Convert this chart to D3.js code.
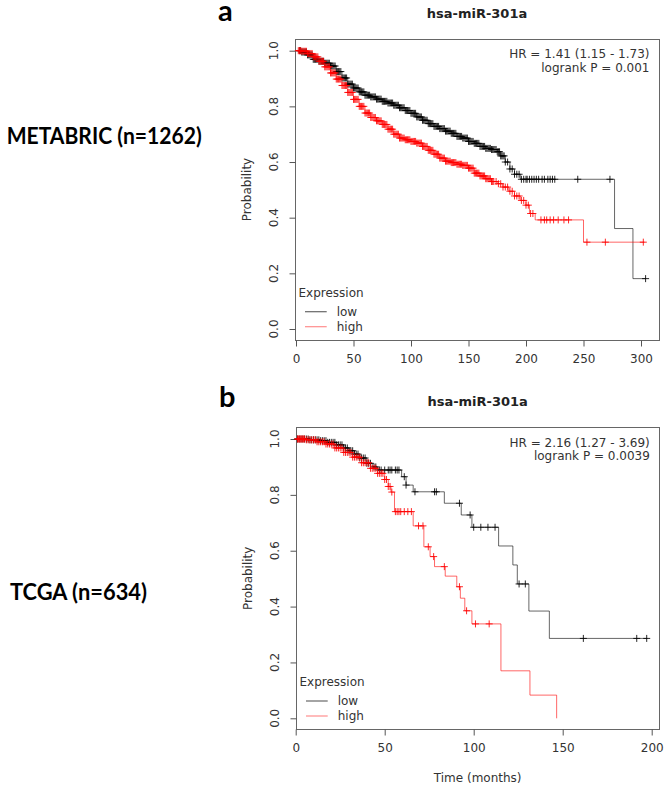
<!DOCTYPE html>
<html><head><meta charset="utf-8">
<script src="https://cdn.jsdelivr.net/npm/d3@7/dist/d3.min.js"></script>
<style>body{margin:0;background:#fff}svg{display:block}</style>
</head><body>
<svg id="c" width="666" height="787"></svg>
<script>
// ---------- data ----------
const geneTitle = "hsa-miR-301a";
const panelLetters = ["a", "b"];
const cohortLabels = ["METABRIC (n=1262)", "TCGA (n=634)"];
const hrLabels = ["HR = 1.41 (1.15 - 1.73)", "HR = 2.16 (1.27 - 3.69)"];
const pLabels = ["logrank P = 0.001", "logrank P = 0.0039"];
const seriesNames = ["low", "high"];
const xTicksA = [0, 50, 100, 150, 200, 250, 300];
const xTicksB = [0, 50, 100, 150, 200];
const yTicks = [0, 0.2, 0.4, 0.6, 0.8, 1.0];

// Panel a – low expression (step times / survival after step)
const aLowT = [0,5,10,15,20,25,30,35,40,45,50,55,60,65,70,75,80,85,90,95,100,105,110,115,120,125,130,135,140,145,150,155,160,165,170,175,178,182,186,190,195,277,293,304];
const aLowS = [1.0,0.995,0.985,0.969,0.962,0.955,0.945,0.925,0.902,0.880,0.866,0.852,0.840,0.834,0.826,0.818,0.812,0.804,0.795,0.785,0.775,0.762,0.750,0.738,0.728,0.720,0.711,0.703,0.692,0.686,0.674,0.667,0.656,0.649,0.645,0.637,0.622,0.600,0.575,0.556,0.538,0.361,0.181,0.181];
const aLowCens = [3,4,5,6,7,8,9,10,11,12,13,14,15,16,17,18,19,20,21,22,23,24,25,26,27,28,29,30,31,32,33,34,35,36,37,38,39,40,41,42,43,44,45,46,47,48,49,50,51,52,53,54,55,56,57,58,59,60,61,62,63,64,65,66,67,68,69,70,71,72,73,74,75,76,77,78,79,80,81,82,83,84,85,86,87,88,89,90,91,92,93,94,95,96,97,98,99,100,101,102,103,104,105,106,107,108,109,110,111,112,113,114,115,116,117,118,119,120,121,122,123,124,125,126,127,128,129,130,131,132,133,134,135,136,137,138,139,140,141,142,143,144,145,146,147,148,149,150,151,152,153,154,155,156,157,158,159,160,161,162,163,164,165,166,167,168,169,170,171,172,173,174,175,176,177,178,179,180,181,182,184,186,188,190,192,194,196,198,200,201,203,205,207,209,211,214,216,219,221,223,225,245,273,304];

// Panel a – high expression
const aHighT = [0,5,10,15,20,25,30,35,40,45,50,55,60,65,70,75,80,85,90,95,100,105,110,115,120,125,130,135,140,145,150,155,160,165,170,175,180,185,190,195,200,203,208,250,303];
const aHighS = [1.0,0.998,0.99,0.978,0.962,0.942,0.92,0.898,0.875,0.850,0.825,0.800,0.776,0.760,0.748,0.735,0.718,0.700,0.686,0.680,0.674,0.668,0.656,0.642,0.628,0.614,0.603,0.598,0.592,0.588,0.578,0.560,0.550,0.540,0.530,0.522,0.510,0.495,0.478,0.462,0.445,0.415,0.392,0.312,0.312];
const aHighCens = [2,3,4,5,6,7,8,9,10,11,12,13,14,15,16,17,18,19,20,21,22,23,24,25,26,27,28,29,30,31,32,33,34,35,36,37,38,39,40,41,42,43,44,45,46,47,48,49,50,51,52,53,54,55,56,57,58,59,60,61,62,63,64,65,66,67,68,69,70,71,72,73,74,75,76,77,78,79,80,81,82,83,84,85,86,87,88,89,90,91,92,93,94,95,96,97,98,99,100,101,102,103,104,105,106,107,108,109,110,111,112,113,114,115,116,117,118,119,120,121,122,123,124,125,126,127,128,129,130,131,132,133,134,135,136,137,138,139,140,141,142,143,144,145,146,147,148,149,150,151,152,153,154,155,156,157,158,159,160,161,162,163,164,165,166,167,168,169,170,171,172,174,176,178,180,182,184,186,188,190,192,194,196,198,200,202,204,206,213,216,218,221,224,228,233,237,253,269,302];

// Panel b – low expression
const bLowT = [0,8,14,18,23,27,30,33,36,40,43,46,59.5,62,66,83.5,93,99,114,122,124.5,131,142.5,197.5];
const bLowS = [1.0,0.997,0.994,0.988,0.979,0.968,0.958,0.946,0.932,0.913,0.900,0.889,0.865,0.835,0.811,0.770,0.728,0.684,0.617,0.549,0.481,0.384,0.286,0.286];
const bLowCens = [1,2,3,4,5,6,7,8,9,10,11,12,13,14,15,16,17,18,19,20,21,22,23,24,25,26,27,28,29,30,31,32,33,34,35,36,37,38,39,40,41,42,44,45,47,48,50,52,53,54,56,57,58,61,62,67,78,79,92,98,100,104,108,112,125.5,129,161.6,191.6,197.2];

// Panel b – high expression
const bHighT = [0,6,12,17,22,27,32,37,42,46,50,52,53.5,55.5,66,72,75.5,78,84,90.5,92.5,95,99,115.3,131.6,146.6];
const bHighS = [1.0,0.997,0.99,0.982,0.968,0.952,0.935,0.915,0.895,0.877,0.855,0.83,0.81,0.740,0.689,0.614,0.579,0.543,0.509,0.471,0.430,0.385,0.338,0.170,0.083,0.0];
const bHighCens = [1,1.5,2,2.5,3,3.5,4,4.5,5,6,7,8,9,10,11,12,13,14,15,16,17,18,19,20,21,22,23,24,25,26,27,28,29,30,31,32,33,34,35,36,37,38,39,40,41,42,43,44,45,46,47,48,49,50,51,52,53,54,56,57,58,59,61,63,65,69,71.5,74.5,77.5,83.5,92,96,101,108.7];

// ---------- layout ----------
const FONT = "DejaVu Sans, Verdana, sans-serif";
const panels = [
  { box:{l:295,r:659,t:39,b:340}, xd:[0,300], xr:[296,641], yr:[329,50.7], xticks:xTicksA,
    low:[aLowT,aLowS,aLowCens], high:[aHighT,aHighS,aHighCens], xlab:false,
    letter:{x:218,y:21}, cohort:{x:6.7,y:144,w:195} },
  { box:{l:296,r:659.3,t:427.3,b:729.3}, xd:[0,200], xr:[295.7,651.7], yr:[718.3,439], xticks:xTicksB,
    low:[bLowT,bLowS,bLowCens], high:[bHighT,bHighS,bHighCens], xlab:true,
    letter:{x:219,y:407}, cohort:{x:10,y:600,w:137} }
];
const colors = {
  low:{line:"#000", lineOp:0.6, mark:"#000", markOp:0.85},
  high:{line:"#ff0000", lineOp:0.6, mark:"#ff0000", markOp:0.85}
};

const svg = d3.select("#c");

panels.forEach((p, i) => {
  const x = d3.scaleLinear().domain(p.xd).range(p.xr);
  const y = d3.scaleLinear().domain([0,1]).range(p.yr);
  const g = svg.append("g");
  const B = p.box;

  // panel letter and cohort label
  svg.append("text").attr("x", p.letter.x).attr("y", p.letter.y)
    .attr("font-family", "Lato, 'Open Sans', sans-serif").attr("font-weight", "bold")
    .attr("font-size", 29).attr("fill", "#000").text(panelLetters[i]);
  svg.append("text").attr("x", p.cohort.x).attr("y", p.cohort.y)
    .attr("font-family", "Lato, 'Open Sans', sans-serif").attr("font-weight", "bold")
    .attr("font-size", 22).attr("fill", "#000")
    .attr("textLength", p.cohort.w).attr("lengthAdjust", "spacingAndGlyphs")
    .text(cohortLabels[i]);

  // title
  g.append("text").attr("x", (B.l + B.r) / 2).attr("y", B.t - 21)
    .attr("text-anchor", "middle").attr("font-family", FONT).attr("font-weight", "bold")
    .attr("font-size", 13).attr("fill", "#222").text(geneTitle);

  // box
  g.append("rect").attr("x", Math.round(B.l) + 0.5).attr("y", Math.round(B.t) + 0.5)
    .attr("width", Math.round(B.r) - Math.round(B.l)).attr("height", Math.round(B.b) - Math.round(B.t))
    .attr("fill", "none").attr("stroke", "#666").attr("stroke-width", 1);

  // x axis
  const xa = g.append("g").attr("transform", `translate(0,${Math.round(B.b) + 0.5})`)
    .call(d3.axisBottom(x).tickValues(p.xticks).tickSize(6).tickPadding(8).tickFormat(d3.format("d")));
  xa.select(".domain").remove();
  xa.selectAll("line").attr("stroke", "#555");
  xa.selectAll("text").attr("font-family", FONT).attr("font-size", 12).attr("fill", "#333");

  // y axis
  const ya = g.append("g").attr("transform", `translate(${Math.round(B.l) + 0.5},0)`)
    .call(d3.axisLeft(y).tickValues(yTicks).tickSize(6).tickFormat(() => ""));
  ya.select(".domain").remove();
  ya.selectAll("line").attr("stroke", "#555");
  g.selectAll(".ylab").data(yTicks).enter().append("text")
    .attr("transform", d => `translate(${B.l - 21.5},${y(d)}) rotate(-90)`)
    .attr("text-anchor", "middle").attr("dy", "0.35em")
    .attr("font-family", FONT).attr("font-size", 12).attr("fill", "#333")
    .text(d => d3.format(".1f")(d));

  // axis titles
  g.append("text").attr("transform", `translate(${B.l - 48},${(B.t + B.b) / 2}) rotate(-90)`)
    .attr("text-anchor", "middle").attr("dy", "0.35em")
    .attr("font-family", FONT).attr("font-size", 12).attr("fill", "#333").text("Probability");
  if (p.xlab) {
    g.append("text").attr("x", (B.l + B.r) / 2).attr("y", 782)
      .attr("text-anchor", "middle").attr("font-family", FONT).attr("font-size", 12)
      .attr("fill", "#333").text("Time (months)");
  }

  // curves
  const line = d3.line().x(d => x(d[0])).y(d => y(d[1])).curve(d3.curveStepAfter);
  const surv = (T, S, t) => { let v = S[0]; for (let k = 0; k < T.length; k++) { if (T[k] <= t) v = S[k]; } return v; };
  seriesNames.forEach(name => {
    const [T, S, C] = p[name];
    const pts = T.map((t, k) => [t, S[k]]);
    const c = colors[name];
    g.append("path").attr("d", line(pts)).attr("fill", "none")
      .attr("stroke", c.line).attr("stroke-opacity", c.lineOp).attr("stroke-width", 1);
    const m = g.append("g");
    C.forEach(t => {
      const cx = x(t), cy = y(surv(T, S, t));
      m.append("path").attr("d", `M${cx - 3.5},${cy}H${cx + 3.5}M${cx},${cy - 3.5}V${cy + 3.5}`)
        .attr("stroke", c.mark).attr("stroke-opacity", c.markOp).attr("stroke-width", 1).attr("fill", "none");
    });
  });

  // HR text
  const tx = B.r - 9.5;
  g.append("text").attr("x", tx).attr("y", B.t + 19.4).attr("text-anchor", "end")
    .attr("font-family", FONT).attr("font-size", 12).attr("fill", "#333").text(hrLabels[i]);
  g.append("text").attr("x", tx).attr("y", B.t + 32.8).attr("text-anchor", "end")
    .attr("font-family", FONT).attr("font-size", 12).attr("fill", "#333").text(pLabels[i]);

  // legend
  const lg = g.append("g");
  lg.append("text").attr("x", B.l + 3.5).attr("y", B.b - 43)
    .attr("font-family", FONT).attr("font-size", 12).attr("fill", "#333").text("Expression");
  seriesNames.forEach((name, k) => {
    const ly = B.b - 28.3 + k * 15;
    lg.append("line").attr("x1", B.l + 10).attr("x2", B.l + 31.7).attr("y1", ly).attr("y2", ly)
      .attr("stroke", colors[name].line).attr("stroke-opacity", name === "low" ? 0.6 : 0.45).attr("stroke-width", 1.2);
    lg.append("text").attr("x", B.l + 41.7).attr("y", ly + 4.3)
      .attr("font-family", FONT).attr("font-size", 12).attr("fill", "#333").text(name);
  });
});
</script>
</body></html>
